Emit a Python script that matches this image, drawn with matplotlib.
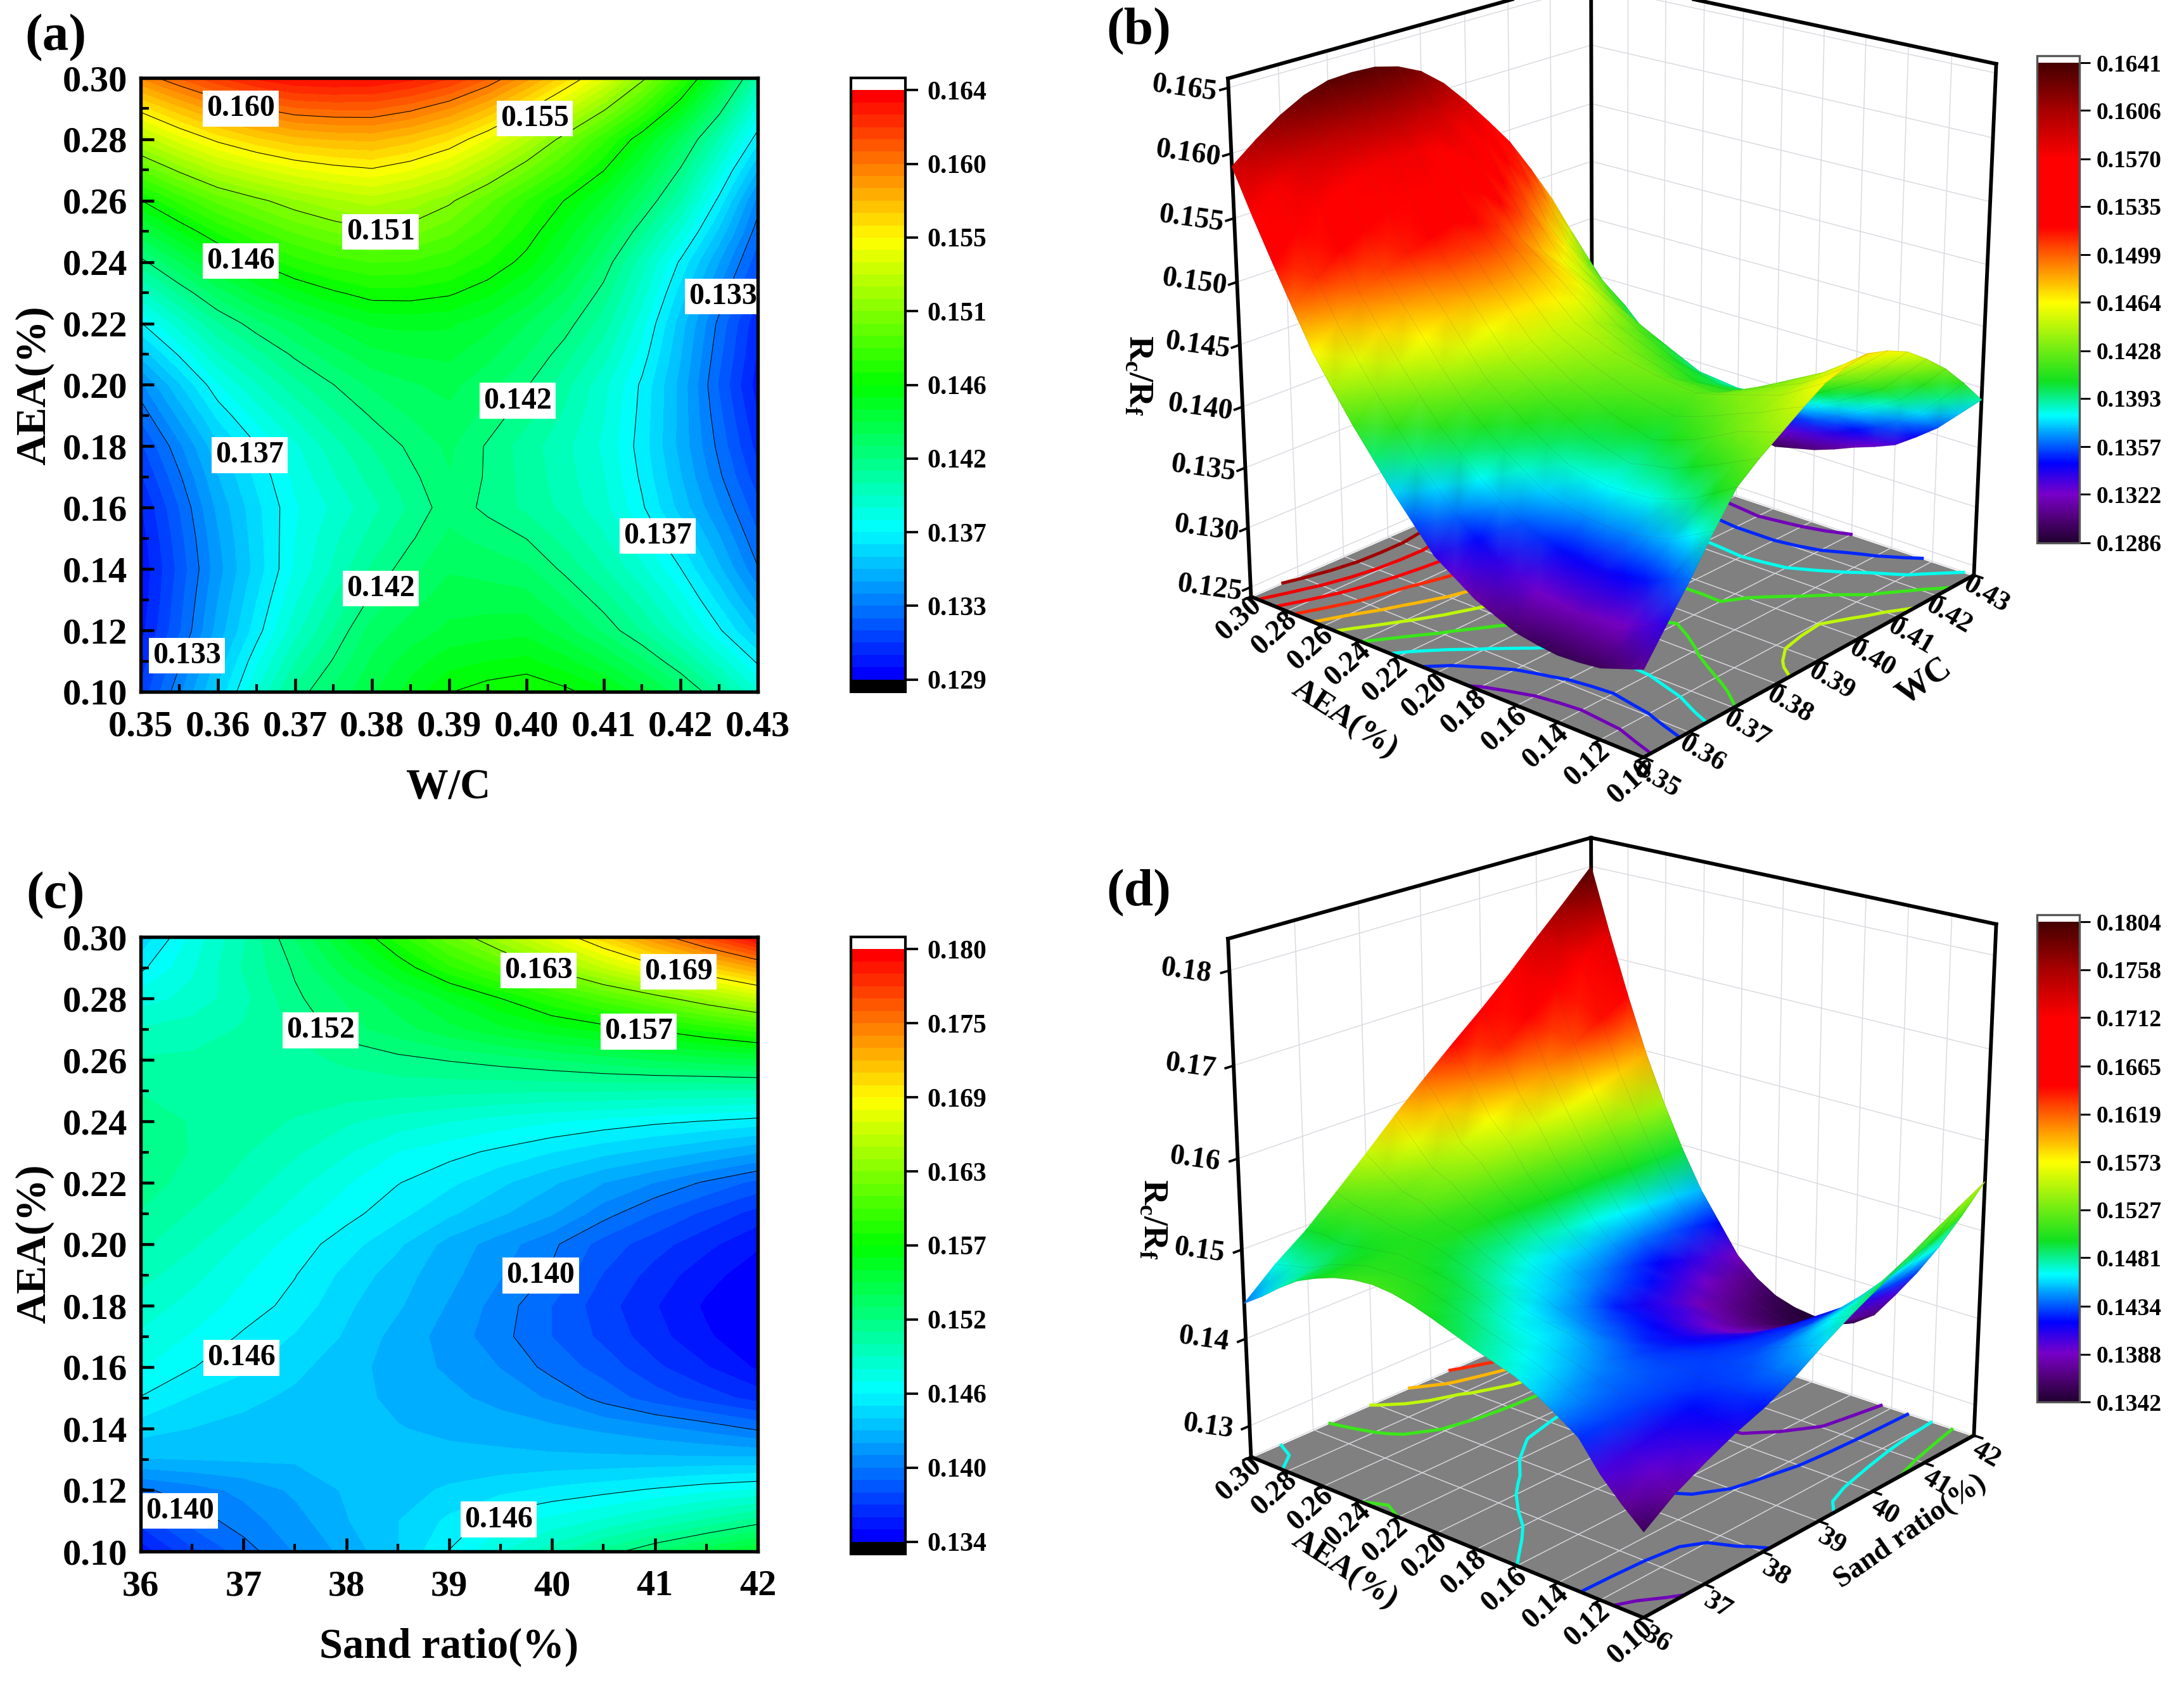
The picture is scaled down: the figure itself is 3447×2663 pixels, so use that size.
import numpy as np
import matplotlib
matplotlib.use('Agg')
import matplotlib.pyplot as plt
from matplotlib.colors import LinearSegmentedColormap, Normalize
from matplotlib.cm import ScalarMappable
from matplotlib.ticker import MultipleLocator, FormatStrFormatter
from mpl_toolkits.mplot3d import proj3d

W, H = 3447, 2663

plt.rcParams['font.family'] = ['Liberation Serif', 'DejaVu Serif']
plt.rcParams['font.weight'] = 'bold'
plt.rcParams['mathtext.fontset'] = 'custom'
plt.rcParams['mathtext.rm'] = 'Liberation Serif:bold'
plt.rcParams['mathtext.default'] = 'rm'

# W/C columns and AEA rows (a) and (b), values x 1e-4
wc = [0.35, 0.355, 0.36, 0.365, 0.37, 0.375, 0.38, 0.385, 0.39, 0.395, 0.40, 0.405, 0.41, 0.415, 0.42, 0.425, 0.43]
aea = [0.30, 0.29, 0.28, 0.27, 0.26, 0.25, 0.24, 0.23, 0.22, 0.21, 0.20, 0.19, 0.18, 0.17, 0.16, 0.15, 0.14, 0.13, 0.12, 0.11, 0.10]
ratio_wc = [
    [1590, 1605, 1618, 1628, 1634, 1635, 1634, 1629, 1620, 1605, 1585, 1563, 1540, 1511, 1480, 1444, 1405],
    [1556, 1572, 1586, 1596, 1603, 1605, 1605, 1599, 1589, 1574, 1555, 1533, 1510, 1484, 1456, 1423, 1387],
    [1524, 1541, 1555, 1565, 1572, 1575, 1576, 1570, 1560, 1544, 1525, 1503, 1480, 1457, 1432, 1403, 1370],
    [1493, 1510, 1525, 1535, 1543, 1548, 1551, 1545, 1535, 1519, 1501, 1483, 1464, 1442, 1418, 1387, 1352],
    [1463, 1480, 1495, 1505, 1514, 1521, 1526, 1520, 1510, 1495, 1478, 1463, 1448, 1428, 1405, 1372, 1335],
    [1439, 1456, 1472, 1484, 1494, 1501, 1506, 1503, 1495, 1483, 1469, 1453, 1436, 1414, 1389, 1358, 1326],
    [1416, 1434, 1450, 1464, 1475, 1482, 1486, 1485, 1480, 1471, 1460, 1444, 1425, 1400, 1373, 1345, 1318],
    [1395, 1413, 1430, 1443, 1454, 1462, 1468, 1468, 1465, 1458, 1447, 1433, 1416, 1393, 1364, 1336, 1310],
    [1374, 1393, 1411, 1424, 1434, 1443, 1450, 1451, 1450, 1444, 1434, 1423, 1408, 1385, 1356, 1328, 1302],
    [1355, 1376, 1396, 1409, 1421, 1431, 1439, 1442, 1443, 1436, 1427, 1415, 1400, 1379, 1353, 1325, 1300],
    [1336, 1359, 1381, 1396, 1409, 1419, 1428, 1433, 1436, 1429, 1420, 1407, 1392, 1373, 1350, 1322, 1297],
    [1325, 1347, 1369, 1385, 1398, 1410, 1420, 1427, 1432, 1424, 1414, 1403, 1390, 1372, 1350, 1325, 1301],
    [1314, 1336, 1358, 1374, 1388, 1401, 1412, 1421, 1428, 1418, 1408, 1399, 1388, 1371, 1350, 1328, 1305],
    [1307, 1329, 1352, 1369, 1384, 1396, 1407, 1417, 1426, 1418, 1409, 1400, 1390, 1373, 1353, 1332, 1311],
    [1300, 1323, 1347, 1365, 1381, 1391, 1402, 1413, 1424, 1417, 1410, 1402, 1392, 1376, 1357, 1338, 1318],
    [1297, 1320, 1344, 1364, 1382, 1395, 1407, 1418, 1428, 1424, 1419, 1409, 1398, 1383, 1366, 1346, 1324],
    [1295, 1318, 1342, 1363, 1383, 1398, 1413, 1424, 1433, 1431, 1428, 1417, 1405, 1391, 1375, 1354, 1331],
    [1296, 1320, 1345, 1367, 1388, 1405, 1421, 1431, 1438, 1438, 1437, 1427, 1415, 1401, 1385, 1365, 1343],
    [1298, 1322, 1348, 1371, 1394, 1412, 1430, 1437, 1443, 1445, 1446, 1437, 1425, 1411, 1395, 1376, 1356],
    [1304, 1329, 1355, 1380, 1404, 1420, 1435, 1445, 1453, 1456, 1458, 1451, 1441, 1428, 1412, 1393, 1373],
    [1310, 1336, 1361, 1389, 1414, 1428, 1440, 1452, 1463, 1468, 1471, 1466, 1458, 1445, 1430, 1411, 1390],
]

# sand ratio columns (c) and (d), same AEA rows
sand = [36, 36.5, 37, 37.5, 38, 38.5, 39, 39.5, 40, 40.5, 41, 41.5, 42]
ratio_sand = [
    [1440, 1470, 1495, 1525, 1556, 1588, 1618, 1647, 1675, 1705, 1737, 1768, 1800],
    [1455, 1475, 1497, 1517, 1540, 1564, 1590, 1610, 1635, 1660, 1683, 1705, 1728],
    [1472, 1480, 1493, 1513, 1526, 1540, 1556, 1573, 1590, 1607, 1624, 1642, 1660],
    [1487, 1491, 1497, 1507, 1521, 1530, 1541, 1551, 1560, 1567, 1575, 1586, 1597],
    [1497, 1498, 1500, 1503, 1507, 1512, 1516, 1520, 1525, 1530, 1535, 1539, 1543],
    [1505, 1504, 1503, 1502, 1501, 1500, 1499, 1498, 1497, 1497, 1496, 1495, 1495],
    [1510, 1505, 1501, 1495, 1488, 1482, 1477, 1472, 1468, 1464, 1460, 1457, 1453],
    [1512, 1505, 1497, 1488, 1478, 1467, 1461, 1455, 1448, 1441, 1435, 1428, 1420],
    [1510, 1502, 1492, 1480, 1468, 1458, 1450, 1440, 1430, 1419, 1409, 1398, 1387],
    [1505, 1495, 1485, 1472, 1461, 1451, 1440, 1430, 1420, 1404, 1390, 1378, 1367],
    [1498, 1488, 1475, 1463, 1452, 1440, 1425, 1414, 1402, 1386, 1375, 1364, 1353],
    [1490, 1480, 1468, 1458, 1445, 1433, 1422, 1410, 1398, 1380, 1367, 1355, 1346],
    [1482, 1473, 1463, 1454, 1440, 1430, 1418, 1405, 1390, 1375, 1362, 1350, 1343],
    [1475, 1466, 1456, 1447, 1437, 1425, 1415, 1403, 1390, 1378, 1365, 1353, 1344],
    [1468, 1458, 1450, 1441, 1432, 1425, 1417, 1409, 1396, 1386, 1373, 1362, 1350],
    [1457, 1447, 1441, 1436, 1431, 1427, 1422, 1415, 1408, 1396, 1385, 1376, 1367],
    [1443, 1438, 1435, 1433, 1431, 1429, 1427, 1425, 1421, 1417, 1412, 1406, 1398],
    [1428, 1429, 1430, 1430, 1430, 1431, 1431, 1431, 1431, 1431, 1431, 1431, 1431],
    [1398, 1405, 1412, 1421, 1430, 1434, 1440, 1445, 1450, 1454, 1459, 1464, 1468],
    [1375, 1394, 1405, 1415, 1428, 1438, 1450, 1463, 1470, 1478, 1488, 1498, 1510],
    [1355, 1378, 1395, 1410, 1422, 1438, 1458, 1476, 1492, 1509, 1525, 1540, 1555],
]

range_a = (0.1286, 0.1641)
range_c = (0.1342, 0.1804)
ticks_b = [0.1286, 0.1322, 0.1357, 0.1393, 0.1428, 0.1464, 0.1499, 0.1535, 0.1570, 0.1606, 0.1641]
ticks_d = [0.1342, 0.1388, 0.1434, 0.1481, 0.1527, 0.1573, 0.1619, 0.1665, 0.1712, 0.1758, 0.1804]

band_cmap = LinearSegmentedColormap.from_list('band', ['#0000ff', '#00ffff', '#00ff00', '#ffff00', '#ff0000'], N=48)
band_cmap.set_under('black')
band_cmap.set_over('white')
smooth_cmap = LinearSegmentedColormap.from_list('smooth', [
    (0.0, '#200030'), (0.05, '#500078'), (0.10, '#7800c8'), (0.165, '#0000ff'), (0.265, '#00ffff'),
    (0.335, '#10e020'), (0.50, '#ffff00'), (0.57, '#ff9000'), (0.66, '#ff0000'), (0.80, '#ff0000'),
    (0.90, '#aa0000'), (1.0, '#460000')], N=256)
smooth_cmap.set_over('white')


def rect(x0, y0, x1, y1):
    return [x0 / W, 1 - y1 / H, (x1 - x0) / W, (y1 - y0) / H]


def put(px, py, s, size, rotation=0):
    fig.text(px / W, 1 - py / H, s, fontsize=size, rotation=rotation, ha='center', va='center', rotation_mode='anchor')


def contour_panel(box, cbox, xs, ys, table, vrange, xstep, xfmt, labels):
    ax = fig.add_axes(rect(*box))
    z = np.array(table) / 1e4
    levels = np.linspace(vrange[0], vrange[1], 49)
    cf = ax.contourf(xs, ys, z, levels=levels, cmap=band_cmap, extend='both')
    ax.contour(xs, ys, z, levels=levels[6:-1:6], colors='black', linewidths=0.25)
    for x, y, s in labels:
        ax.text(x, y, s, fontsize=11.5, ha='center', va='center', zorder=5,
                bbox=dict(fc='white', ec='none', pad=1.5))
    ax.set_xlim(xs[0], xs[-1])
    ax.set_ylim(0.10, 0.30)
    ax.xaxis.set_major_locator(MultipleLocator(xstep))
    ax.xaxis.set_minor_locator(MultipleLocator(xstep / 2))
    ax.xaxis.set_major_formatter(FormatStrFormatter(xfmt))
    ax.yaxis.set_major_locator(MultipleLocator(0.02))
    ax.yaxis.set_minor_locator(MultipleLocator(0.01))
    ax.yaxis.set_major_formatter(FormatStrFormatter('%.2f'))
    ax.tick_params(which='major', direction='in', length=5, width=1.1, labelsize=14)
    ax.tick_params(axis='x', pad=7)
    ax.tick_params(axis='y', pad=5)
    ax.tick_params(which='minor', direction='in', length=3, width=1.0)
    for sp in ax.spines.values():
        sp.set_linewidth(1.3)
        sp.set_zorder(6)
    cax = fig.add_axes(rect(*cbox))
    cb = fig.colorbar(cf, cax=cax, extendrect=True, extendfrac=1 / 48, drawedges=False)
    cb.set_ticks(levels[::6])
    cb.ax.yaxis.set_major_formatter(FormatStrFormatter('%.3f'))
    cb.ax.tick_params(direction='out', length=4.8, width=0.9, labelsize=10, pad=3.5)
    cb.ax.minorticks_off()
    cb.outline.set_linewidth(1.0)


def surface_panel(box, cbox, xs, ys, table, vrange, cticks, zlim, zticks, zfmt, xticks, xlabels):
    ax = fig.add_axes(rect(*box), projection='3d', computed_zorder=False)
    ax.patch.set_alpha(0)
    ax.view_init(elev=20.5, azim=-139)
    ax.set_proj_type('persp', focal_length=0.65)
    ax.set_box_aspect((1, 1, 1.04), zoom=1.0)
    X, Y = np.meshgrid(xs, ys)
    z = np.array(table) / 1e4
    norm = Normalize(*vrange)
    ax.set_xlim(xs[0], xs[-1])
    ax.set_ylim(0.10, 0.30)
    ax.set_zlim(*zlim)
    ax.contour(X, Y, z, levels=np.linspace(vrange[0], vrange[1], 12)[1:-1], zdir='z', offset=zlim[0],
               cmap=smooth_cmap, norm=norm, linewidths=1.2, zorder=2)
    # outer box of the plot
    x0, x1, y0, y1, z0, z1 = xs[0], xs[-1], 0.10, 0.30, zlim[0], zlim[1]
    ax.plot([x1, x1], [y1, y1], [z0, z1], color='black', lw=1.4, zorder=1)
    for px, py in [(x0, y1), (x1, y0)]:
        ax.plot([px, px], [py, py], [z0, z1], color='black', lw=1.4, zorder=4)
    ax.plot([x0, x1, x1], [y1, y1, y0], [z1, z1, z1], color='black', lw=1.4, zorder=4)
    ax.plot([x0, x0, x1], [y1, y0, y0], [z0, z0, z0], color='black', lw=1.4, zorder=4)
    ax.xaxis.set_pane_color((1, 1, 1, 1))
    ax.yaxis.set_pane_color((1, 1, 1, 1))
    ax.zaxis.set_pane_color((0.5, 0.5, 0.5, 1))
    for axis in (ax.xaxis, ax.yaxis, ax.zaxis):
        axis.line.set_linewidth(0)
        axis.pane.set_edgecolor((1, 1, 1, 0))
        axis._axinfo['grid'].update(color=(0.85, 0.85, 0.88, 1), linewidth=0.35)
        axis._axinfo['tick'].update(inward_factor=0.25, outward_factor=0.0, linewidth={True: 0.9, False: 0.9})
    ax.set_xticks(xticks)
    ax.set_xticklabels(xlabels, rotation=-30, fontsize=10.5, ha='center', va='center')
    ax.set_yticks([0.10, 0.12, 0.14, 0.16, 0.18, 0.20, 0.22, 0.24, 0.26, 0.28, 0.30])
    ax.set_yticklabels(['%.2f' % v for v in ax.get_yticks()], rotation=42, fontsize=11, ha='center', va='center')
    ax.set_zticks(zticks)
    ax.set_zticklabels([zfmt % v for v in zticks], rotation=-8, fontsize=11, ha='center', va='center')
    ax.tick_params(axis='x', pad=-2.5)
    ax.tick_params(axis='y', pad=-2)
    ax.tick_params(axis='z', pad=2)

    # smooth surface: vertex colours by the renderer, painted strip by strip from the far corner
    ax.apply_aspect()
    over = fig.add_axes(rect(*box), frameon=False)
    over.set_axis_off()
    sx, sy, _ = proj3d.proj_transform(X.ravel(), Y.ravel(), z.ravel(), ax.get_proj())
    sx = sx.reshape(z.shape)[:, ::-1]
    sy = sy.reshape(z.shape)[:, ::-1]
    zc = z[:, ::-1]
    for i in range(z.shape[0] - 1):
        over.pcolormesh(sx[i:i + 2], sy[i:i + 2], zc[i:i + 2], shading='gouraud', cmap=smooth_cmap, norm=norm,
                        transform=ax.transData, clip_on=False, zorder=2 * i + 1)
        over.plot(sx[i:i + 2], sy[i:i + 2], color=(0.3, 0.3, 0.3, 0.15), lw=0.25,
                  transform=ax.transData, clip_on=False, zorder=2 * i + 2)
        over.plot(sx[i + 1], sy[i + 1], color=(0.3, 0.3, 0.3, 0.15), lw=0.25,
                  transform=ax.transData, clip_on=False, zorder=2 * i + 2)

    cax = fig.add_axes(rect(*cbox))
    cb = fig.colorbar(ScalarMappable(norm=norm, cmap=smooth_cmap), cax=cax, extend='max', extendrect=True, extendfrac=0.015)
    cb.set_ticks(cticks)
    cb.ax.yaxis.set_major_formatter(FormatStrFormatter('%.4f'))
    cb.ax.tick_params(direction='out', length=4, width=0.7, labelsize=9, pad=2.5)
    cb.ax.minorticks_off()
    cb.outline.set_linewidth(0.8)
    cb.outline.set_edgecolor('#555555')


fig = plt.figure(figsize=(W / 300, H / 300), dpi=300)

labels_a = [(0.363, 0.290, '0.160'), (0.4011, 0.2868, '0.155'), (0.3811, 0.2499, '0.151'), (0.363, 0.2404, '0.146'),
            (0.4255, 0.2288, '0.133'), (0.3989, 0.1948, '0.142'), (0.3641, 0.1771, '0.137'), (0.417, 0.1508, '0.137'),
            (0.3811, 0.1336, '0.142'), (0.356, 0.1118, '0.133')]
labels_c = [(39.87, 0.2891, '0.163'), (41.23, 0.2887, '0.169'), (37.75, 0.2696, '0.152'), (40.84, 0.2692, '0.157'),
            (39.89, 0.1898, '0.140'), (36.98, 0.163, '0.146'), (36.38, 0.1132, '0.140'), (39.48, 0.1104, '0.146')]

contour_panel((222, 123, 1196, 1092), (1343, 123, 1429, 1092), wc, aea, ratio_wc, range_a, 0.01, '%.2f', labels_a)
contour_panel((222, 1479, 1196, 2449), (1343, 1479, 1429, 2453), sand, aea, ratio_sand, range_c, 1, '%d', labels_c)

surface_panel((1780, -160, 3280, 1260), (3215, 88, 3282, 857), wc, aea, ratio_wc, range_a, ticks_b,
              (0.1242, 0.1657), [0.125, 0.13, 0.135, 0.14, 0.145, 0.15, 0.155, 0.16, 0.165], '%.3f',
              [0.35, 0.36, 0.37, 0.38, 0.39, 0.40, 0.41, 0.42, 0.43], ['0.35', '0.36', '0.37', '0.38', '0.39', '0.40', '0.41', '0.42', '0.43'])
surface_panel((1780, 1198, 3280, 2618), (3215, 1444, 3282, 2213), sand, aea, ratio_sand, range_c, ticks_d,
              (0.1264, 0.1833), [0.13, 0.14, 0.15, 0.16, 0.17, 0.18], '%.2f',
              [36, 37, 38, 39, 40, 41, 42], ['36', '37', '38', '39', '40', '41', '42'])

put(88, 60, '(a)', 20)
put(1797, 50, '(b)', 20)
put(88, 1414, '(c)', 20)
put(1797, 1410, '(d)', 20)
put(708, 1244, 'W/C', 16)
put(55, 608, 'AEA(%)', 16, 90)
put(708, 2600, 'Sand ratio(%)', 16)
put(55, 1963, 'AEA(%)', 16, 90)
put(2122, 1135, 'AEA(%)', 12, -33)
put(3037, 1077, 'WC', 13, 35)
put(1796, 593, 'R$_{c}$/R$_{f}$', 13, -90)
put(2122, 2478, 'AEA(%)', 12, -33)
put(3015, 2418, 'Sand ratio(%)', 11, 35)
put(1820, 1925, 'R$_{c}$/R$_{f}$', 13, -90)

plt.savefig('out.png', dpi=300)
